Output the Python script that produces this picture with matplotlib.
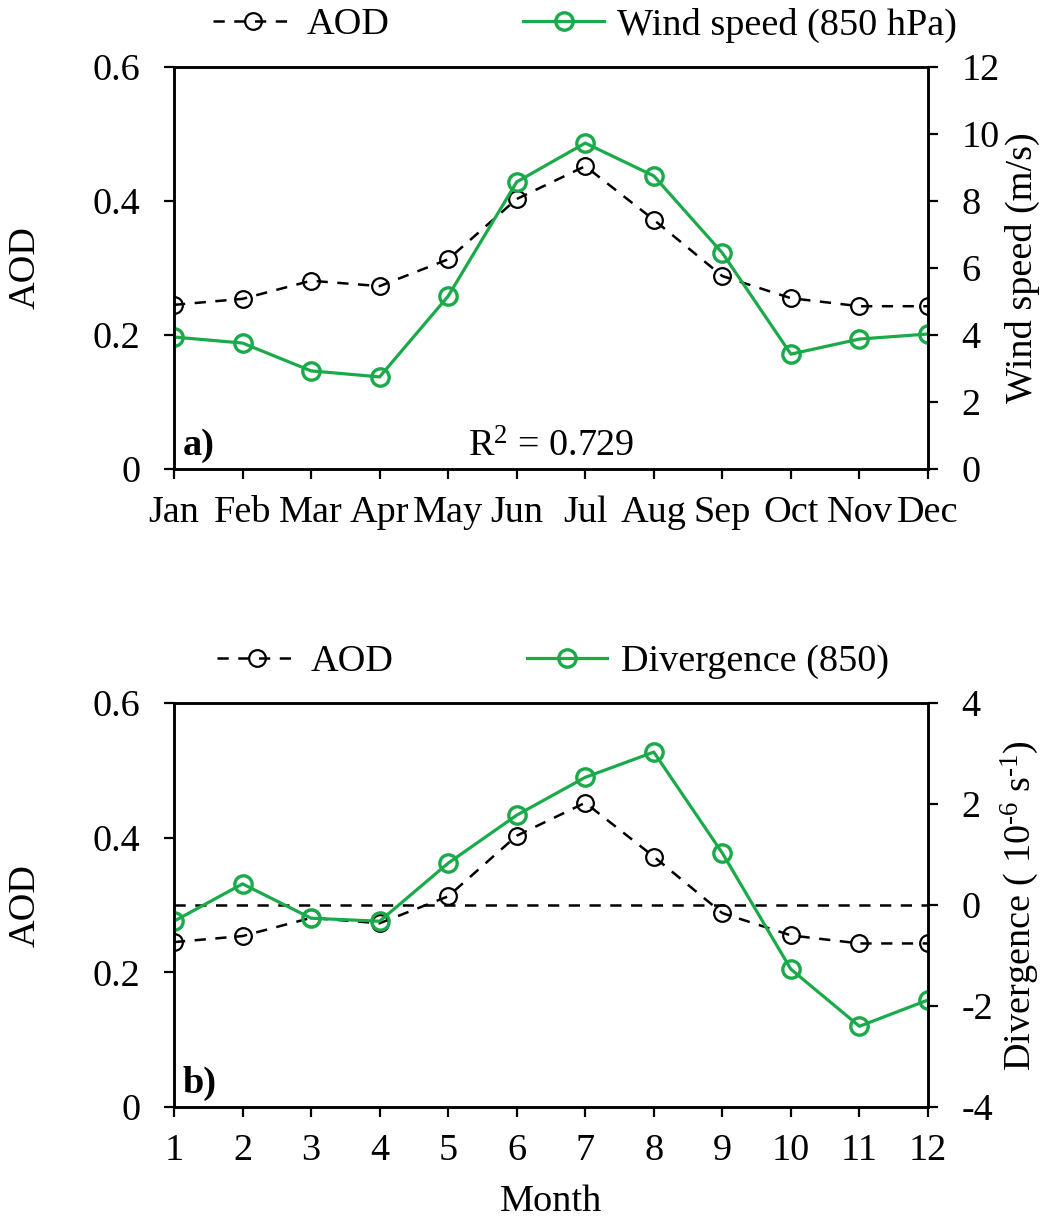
import matplotlib
matplotlib.use("Agg")
import matplotlib.pyplot as plt
import numpy as np

# data
months = [1, 2, 3, 4, 5, 6, 7, 8, 9, 10, 11, 12]
month_names = ['Jan', 'Feb', 'Mar', 'Apr', 'May', 'Jun',
               'Jul', 'Aug', 'Sep', 'Oct', 'Nov', 'Dec']
aod = [0.245, 0.254, 0.281, 0.273, 0.313, 0.403,
       0.452, 0.372, 0.288, 0.255, 0.243, 0.243]
wind = [3.94, 3.76, 2.93, 2.75, 5.16, 8.57,
        9.73, 8.75, 6.45, 3.43, 3.88, 4.03]
divergence = [-0.32, 0.42, -0.26, -0.32, 0.83, 1.78,
              2.53, 3.03, 1.03, -1.27, -2.40, -1.88]

plt.rcParams['font.family'] = ['Liberation Serif', 'DejaVu Serif']
plt.rcParams['mathtext.fontset'] = 'custom'
plt.rcParams['mathtext.rm'] = 'Liberation Serif'
plt.rcParams['mathtext.it'] = 'Liberation Serif:italic'

green = '#1aaa4a'
fs = 27.5
dash = (0, (4.5, 3.8))

fig = plt.figure(figsize=(10.43, 12.23), dpi=100)


def style_axes(ax, ax2):
    for a in (ax, ax2):
        for s in a.spines.values():
            s.set_linewidth(1.8)
        a.tick_params(direction='out', length=7, width=1.6, labelsize=fs, pad=17)
    ax.tick_params(axis='x', pad=12)


def draw_aod(ax):
    return ax.plot(months, aod, color='black', linestyle=dash, linewidth=1.8,
                   marker='o', markersize=12, markerfacecolor='none',
                   markeredgecolor='black', markeredgewidth=1.6, label='AOD', zorder=3)


def draw_green(ax, vals, label):
    return ax.plot(months, vals, color=green, linewidth=2.3, marker='o', markersize=12.5,
                   markerfacecolor='none', markeredgecolor=green, markeredgewidth=2.4,
                   label=label)


# ---- panel a ----
ax1 = fig.add_axes([0.1668, 0.6165, 0.7229, 0.3287])
ax1b = ax1.twinx()
l1 = draw_aod(ax1)
l2 = draw_green(ax1b, wind, 'Wind speed (850 hPa)')
ax1.set_xlim(1, 12)
ax1.set_ylim(0, 0.6)
ax1.set_yticks([0, 0.2, 0.4, 0.6])
ax1.set_yticklabels(['0', '0.2', '0.4', '0.6'])
ax1b.set_ylim(0, 12)
ax1b.set_yticks([0, 2, 4, 6, 8, 10, 12])
ax1.set_xticks(months)
ax1.set_xticklabels(month_names)
ax1.set_ylabel('AOD', fontsize=fs, labelpad=36)
ax1b.set_ylabel('Wind speed (m/s)', fontsize=fs, labelpad=4)
style_axes(ax1, ax1b)
ax1.text(0.012, 0.035, 'a)', transform=ax1.transAxes, fontsize=fs, fontweight='bold')
ax1.text(0.5, 0.03, 'R$^2$ = 0.729', transform=ax1.transAxes, fontsize=fs, ha='center')
fig.legend(l1 + l2, ['AOD', 'Wind speed (850 hPa)'], loc='center',
           bbox_to_anchor=(0.561, 0.9796), ncol=2, frameon=False, fontsize=fs,
           handlelength=2.1, columnspacing=3.5, handletextpad=0.35)

# ---- panel b ----
ax2 = fig.add_axes([0.1668, 0.0948, 0.7229, 0.3303])
ax2b = ax2.twinx()
l3 = draw_aod(ax2)
ax2b.axhline(0, color='black', linestyle=dash, linewidth=1.8, zorder=1)
l4 = draw_green(ax2b, divergence, 'Divergence (850)')
ax2.set_xlim(1, 12)
ax2.set_ylim(0, 0.6)
ax2.set_yticks([0, 0.2, 0.4, 0.6])
ax2.set_yticklabels(['0', '0.2', '0.4', '0.6'])
ax2b.set_ylim(-4, 4)
ax2b.set_yticks([-4, -2, 0, 2, 4])
ax2b.set_yticklabels(['-4', '-2', '0', '2', '4'])
ax2.set_xticks(months)
ax2.set_xlabel('Month', fontsize=fs, labelpad=12)
ax2.set_ylabel('AOD', fontsize=fs, labelpad=36)
ax2b.set_ylabel('Divergence ( 10$^{\u2010 6}$ s$^{\u20101}$)', fontsize=fs, labelpad=4)
style_axes(ax2, ax2b)
ax2.text(0.012, 0.035, 'b)', transform=ax2.transAxes, fontsize=fs, fontweight='bold')
fig.legend(l3 + l4, ['AOD', 'Divergence (850)'], loc='center',
           bbox_to_anchor=(0.530, 0.4587), ncol=2, frameon=False, fontsize=fs,
           handlelength=2.1, columnspacing=3.5, handletextpad=0.35)

fig.savefig('out.png', dpi=100)
